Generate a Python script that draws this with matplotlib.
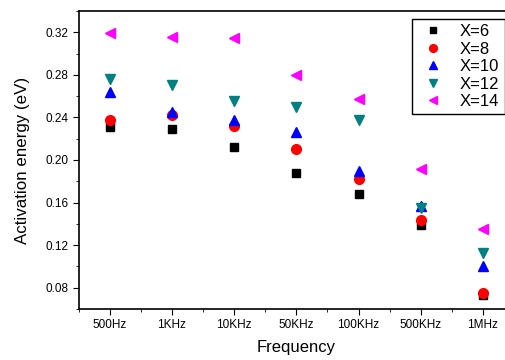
import matplotlib
matplotlib.use('Agg')
import matplotlib.pyplot as plt
from matplotlib.ticker import MultipleLocator
import numpy as np

plt.rcParams['font.family'] = ['Liberation Sans', 'DejaVu Sans']

freq_labels = ['500Hz', '1KHz', '10KHz', '50KHz', '100KHz', '500KHz', '1MHz']

x6 = [0.231, 0.229, 0.212, 0.188, 0.168, 0.139, 0.073]
x8 = [0.2375, 0.242, 0.232, 0.2105, 0.182, 0.144, 0.0755]
x10 = [0.264, 0.245, 0.238, 0.226, 0.190, 0.157, 0.100]
x12 = [0.276, 0.2705, 0.255, 0.250, 0.238, 0.1545, 0.1128]
x14 = [0.319, 0.316, 0.315, 0.2795, 0.257, 0.192, 0.135]

series = [
    ('X=6', x6, 's', 'black', 6),
    ('X=8', x8, 'o', 'red', 7),
    ('X=10', x10, '^', 'blue', 7.5),
    ('X=12', x12, 'v', '#008080', 7.5),
    ('X=14', x14, '<', '#FF00FF', 7.5),
]

fig = plt.figure(figsize=(5.05, 3.6), dpi=100)
# right side of the frame is cut off in the original
ax = fig.add_axes([78.7 / 505, 1 - 309 / 360, (514 - 78.7) / 505, (309 - 11) / 360])

xpos = np.arange(1, len(freq_labels) + 1)
for name, vals, mk, col, ms in series:
    ax.plot(xpos, vals, linestyle='none', marker=mk, color=col, markersize=ms, label=name)

ax.set_xlim(0.5, 7.5)
ax.set_ylim(0.06, 0.34)
ax.set_xticks(xpos)
ax.set_xticklabels(freq_labels)
ax.xaxis.set_minor_locator(MultipleLocator(0.5))
ax.yaxis.set_major_locator(MultipleLocator(0.04))
ax.yaxis.set_minor_locator(MultipleLocator(0.02))
ax.yaxis.set_major_formatter(matplotlib.ticker.FormatStrFormatter('%.2f'))
ax.tick_params(which='both', direction='out', top=False, right=False, labelsize=8.5)
ax.tick_params(which='major', length=4)
ax.tick_params(which='minor', length=2.5)
for sp in ax.spines.values():
    sp.set_linewidth(1.2)

ax.set_xlabel('Frequency', fontsize=12, labelpad=6)
ax.set_ylabel('Activation energy (eV)', fontsize=12.2)
ax.yaxis.set_label_coords(-(78.7 - 30) / (514 - 78.7), 0.5)

leg = ax.legend(loc='upper left', bbox_to_anchor=((411.7 - 78.7) / (514 - 78.7), (309 - 19.3) / 298),
                borderaxespad=0, fontsize=12, markerscale=0.8, fancybox=False,
                edgecolor='black', framealpha=1, handletextpad=0.6, labelspacing=0.15,
                borderpad=0.3, handlelength=2.0)
leg.get_frame().set_linewidth(1.0)

fig.savefig('out.png', dpi=100)
